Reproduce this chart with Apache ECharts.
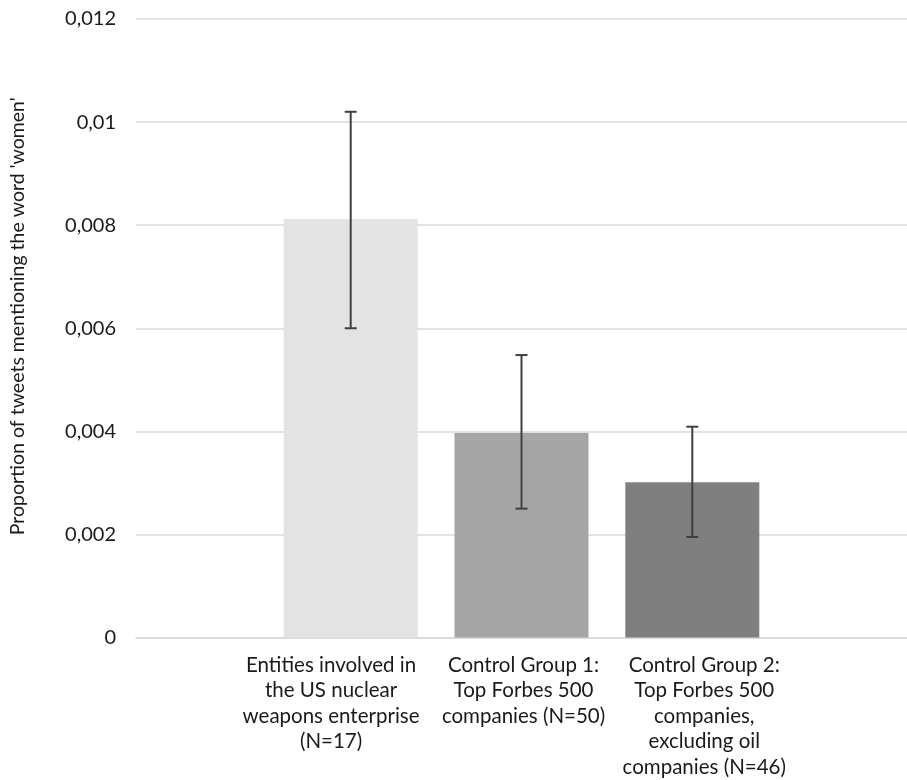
<!DOCTYPE html>
<html>
<head>
<meta charset="utf-8">
<script src="https://cdn.jsdelivr.net/npm/echarts@6/dist/echarts.min.js"></script>
<style>
  html, body { margin: 0; padding: 0; background: #fff; }
  #c1 { width: 907px; height: 780px; }
</style>
</head>
<body>
<div id="c1"></div>
<script>
// chart data
var groups = [
  "Entities involved in\nthe US nuclear\nweapons enterprise\n(N=17)",
  "Control Group 1:\nTop Forbes 500\ncompanies (N=50)",
  "Control Group 2:\nTop Forbes 500\ncompanies,\nexcluding oil\ncompanies (N=46)"
];
var positions = [1, 2, 3];
var labelPositions = [0.885, 2.012, 3.07];
var proportions = [0.00812, 0.00397, 0.00301];
var errLow = [0.0060, 0.0025, 0.00195];
var errHigh = [0.0102, 0.00548, 0.00409];
var barColors = ["#e3e3e3", "#a5a5a5", "#7f7f7f"];

var fontName = "Lato, 'Open Sans', sans-serif";

var chartDom = document.getElementById("c1");
var myChart = echarts.init(chartDom);

var barData = positions.map(function (p, i) {
  return { value: [p, proportions[i]], itemStyle: { color: barColors[i] } };
});
var errData = positions.map(function (p, i) {
  return [p, errLow[i], errHigh[i]];
});

var option = {
  animation: false,
  grid: { left: 135, right: 0, top: 19, bottom: 142 },
  xAxis: {
    type: "value",
    min: -0.257,
    max: 4.257,
    splitLine: { show: false },
    axisTick: { show: false },
    axisLine: { show: true, lineStyle: { color: "#d9d9d9", width: 1.5 } },
    axisLabel: {
      customValues: labelPositions,
      formatter: function (v) {
        var k = 0;
        labelPositions.forEach(function (p, i) {
          if (Math.abs(p - v) < Math.abs(labelPositions[k] - v)) k = i;
        });
        return groups[k];
      },
      color: "#1a1a1a",
      fontFamily: fontName,
      fontSize: 20.5,
      lineHeight: 25.5,
      margin: 15,
      align: "center",
      verticalAlign: "top"
    }
  },
  yAxis: {
    type: "value",
    min: 0,
    max: 0.012,
    interval: 0.002,
    name: "Proportion of tweets mentioning the word 'women'",
    nameLocation: "middle",
    nameGap: 108,
    nameTextStyle: {
      color: "#1a1a1a",
      fontFamily: fontName,
      fontSize: 19.5,
      padding: [0, 0, 0, 24]
    },
    axisLine: { show: false },
    axisTick: { show: false },
    splitLine: { lineStyle: { color: "#d9d9d9", width: 1.5 } },
    axisLabel: {
      color: "#1a1a1a",
      fontFamily: fontName,
      fontSize: 20,
      margin: 20,
      formatter: function (v) {
        return String(+v.toFixed(3)).replace(".", ",");
      }
    }
  },
  series: [
    {
      name: "proportion",
      type: "bar",
      barWidth: 134,
      data: barData
    },
    {
      name: "error",
      type: "custom",
      data: errData,
      z: 5,
      renderItem: function (params, api) {
        var x = api.value(0);
        var lo = api.coord([x, api.value(1)]);
        var hi = api.coord([x, api.value(2)]);
        var cap = 6;
        var style = { stroke: "#404040", lineWidth: 2 };
        return {
          type: "group",
          children: [
            { type: "line", shape: { x1: hi[0], y1: hi[1], x2: lo[0], y2: lo[1] }, style: style },
            { type: "line", shape: { x1: hi[0] - cap, y1: hi[1], x2: hi[0] + cap, y2: hi[1] }, style: style },
            { type: "line", shape: { x1: lo[0] - cap, y1: lo[1], x2: lo[0] + cap, y2: lo[1] }, style: style }
          ]
        };
      }
    }
  ]
};
myChart.setOption(option);
window.addEventListener("resize", function () {
  myChart.resize();
});
</script>
</body>
</html>
